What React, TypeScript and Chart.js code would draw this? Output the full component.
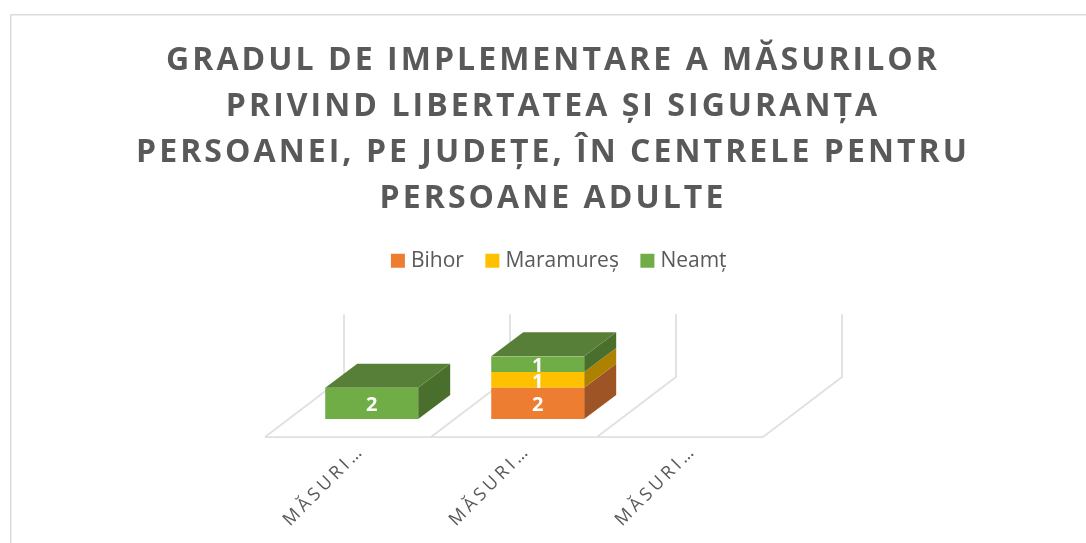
import React, { useEffect, useRef } from "react";
import { Chart, registerables } from "chart.js";

Chart.register(...registerables);

const categories = ["MĂSURI…", "MĂSURI…", "MĂSURI…"];
const bihor = [0, 2, 0];
const maramures = [0, 1, 0];
const neamt = [2, 1, 0];
const titleLines = [
  "GRADUL DE IMPLEMENTARE A MĂSURILOR",
  "PRIVIND LIBERTATEA ȘI SIGURANȚA",
  "PERSOANEI, PE JUDEȚE, ÎN CENTRELE PENTRU",
  "PERSOANE ADULTE",
];
const FONT = "'Open Sans', sans-serif";
const GREY = "#595959";
const LINE = "#e0e0e0";
const sideColors = ["#9E5424", "#AC8200", "#4A6E2B"];
const topColor = "#577F38";

const floorBack = { x: 79, y: -60 };
const barDepth = { x: 32, y: -24 };
const barLift = { x: 23.7, y: 18 };

const withSpacing = (ctx: any, spacing: string, draw: () => void) => {
  ctx.save();
  ctx.letterSpacing = spacing;
  draw();
  ctx.restore();
};

const frame = {
  id: "frame",
  beforeDraw(chart: any) {
    const { ctx, titleBlock, scales, legend } = chart;
    if (!chart.$spaced) {
      chart.$spaced = true;
      legend.left += 16;
      const t = titleBlock.draw;
      titleBlock.draw = function (...a: any[]) {
        withSpacing(ctx, "3.05px", () => t.apply(titleBlock, a));
      };
      const l = scales.x.drawLabels;
      scales.x.drawLabels = function (...a: any[]) {
        withSpacing(ctx, "3.7px", () => l.apply(scales.x, a));
      };
    }
    ctx.save();
    ctx.strokeStyle = "#dcdcdc";
    ctx.lineWidth = 1.5;
    ctx.strokeRect(10.75, 14.75, 1300, 800);
    ctx.restore();
  },
};

const floor = {
  id: "floor",
  beforeDatasetsDraw(chart: any) {
    const { ctx, scales } = chart;
    const { x, y } = scales;
    const n = categories.length;
    const band = x.width / n;
    const fy = y.bottom + barLift.y;
    const h = y.bottom - y.top;
    ctx.save();
    ctx.strokeStyle = LINE;
    ctx.lineWidth = 1.75;
    ctx.beginPath();
    const x0 = x.left - barLift.x;
    ctx.moveTo(x0, fy);
    ctx.lineTo(x0 + band * n, fy);
    for (let i = 0; i <= n; i++) {
      const fx = x0 + band * i;
      ctx.moveTo(fx, fy);
      ctx.lineTo(fx + floorBack.x, fy + floorBack.y);
      ctx.lineTo(fx + floorBack.x, fy + floorBack.y - h);
    }
    ctx.stroke();
    ctx.restore();
  },
};

const blocks = {
  id: "blocks",
  beforeDatasetsDraw(chart: any) {
    const { ctx } = chart;
    const metas = chart.data.datasets.map((_: any, i: number) => chart.getDatasetMeta(i));
    categories.forEach((_, c) => {
      let top: any = null;
      metas.forEach((m: any, d: number) => {
        const el = m.data[c];
        if (!chart.data.datasets[d].data[c]) return;
        const r = el.x + el.width / 2;
        ctx.fillStyle = sideColors[d];
        ctx.beginPath();
        ctx.moveTo(r, el.base);
        ctx.lineTo(r + barDepth.x, el.base + barDepth.y);
        ctx.lineTo(r + barDepth.x, el.y + barDepth.y);
        ctx.lineTo(r, el.y);
        ctx.closePath();
        ctx.fill();
        top = el;
      });
      if (top) {
        const l = top.x - top.width / 2;
        const r = top.x + top.width / 2;
        ctx.fillStyle = topColor;
        ctx.beginPath();
        ctx.moveTo(l, top.y);
        ctx.lineTo(r, top.y);
        ctx.lineTo(r + barDepth.x, top.y + barDepth.y);
        ctx.lineTo(l + barDepth.x, top.y + barDepth.y);
        ctx.closePath();
        ctx.fill();
      }
    });
  },
  afterDatasetsDraw(chart: any) {
    const { ctx } = chart;
    ctx.save();
    ctx.fillStyle = "#ffffff";
    ctx.font = `bold 20px ${FONT}`;
    ctx.textAlign = "center";
    ctx.textBaseline = "middle";
    chart.data.datasets.forEach((ds: any, d: number) => {
      chart.getDatasetMeta(d).data.forEach((el: any, c: number) => {
        if (!ds.data[c]) return;
        ctx.fillText(String(ds.data[c]), el.x, (el.y + el.base) / 2 + 2);
      });
    });
    ctx.restore();
  },
};

const hiddenAxis = (position: string, size: number) => ({
  type: "linear",
  axis: position === "top" ? "x" : "y",
  position,
  grid: { display: false },
  border: { display: false },
  ticks: { display: false },
  afterFit(s: any) {
    if (position === "top") s.height = size;
    else s.width = size;
  },
});

export default function App() {
  const ref = useRef<HTMLCanvasElement>(null);
  useEffect(() => {
    const chart = new Chart(ref.current as HTMLCanvasElement, {
      type: "bar",
      data: {
        labels: categories,
        datasets: [
          { label: "Bihor", data: bihor, backgroundColor: "#ED7D31" },
          { label: "Maramureș", data: maramures, backgroundColor: "#FFC000" },
          { label: "Neamț", data: neamt, backgroundColor: "#70AD47" },
        ],
      },
      options: {
        responsive: false,
        animation: false,
        barPercentage: 0.56,
        categoryPercentage: 1,
        layout: { padding: 0 },
        plugins: {
          tooltip: { enabled: false },
          title: {
            display: true,
            text: titleLines,
            color: GREY,
            font: { family: FONT, size: 32, weight: "bold", lineHeight: 1.44 },
            padding: { top: 38, bottom: 2 },
          },
          legend: {
            display: true,
            labels: {
              color: GREY,
              usePointStyle: true,
              pointStyle: "rect",
              boxWidth: 5,
              boxHeight: 14,
              padding: 26,
              font: { family: FONT, size: 21 },
            },
          },
        },
        scales: {
          x: {
            stacked: true,
            grid: { display: false },
            border: { display: false },
            ticks: {
              color: GREY,
              font: { family: FONT, size: 18 },
              minRotation: 45,
              maxRotation: 45,
              autoSkip: false,
              padding: 13,
              labelOffset: -10,
            },
            afterFit(s: any) {
              s.height = 124;
            },
          },
          y: {
            stacked: true,
            min: 0,
            max: 4,
            grid: { display: false },
            border: { display: false },
            ticks: { display: false },
            afterFit(s: any) {
              s.width = 288.7;
            },
          },
          gapTop: hiddenAxis("top", 75),
          gapRight: hiddenAxis("right", 319.3),
        },
      } as any,
      plugins: [frame, floor, blocks],
    });
    return () => chart.destroy();
  }, []);
  return (
    <div style={{ position: "fixed", left: 0, top: 0, width: 1086, height: 543, overflow: "hidden", background: "#fff" }}>
      <canvas ref={ref} width={1106} height={543} style={{ display: "block" }} />
    </div>
  );
}
